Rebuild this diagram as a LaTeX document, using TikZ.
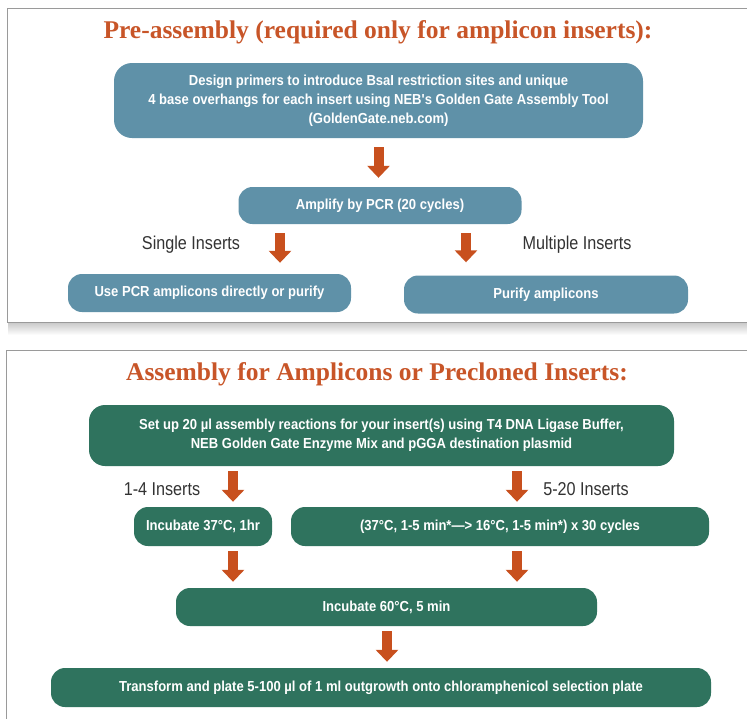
\documentclass[tikz,border=0pt]{standalone}
\usepackage{fontspec}
\usetikzlibrary{arrows.meta,calc}
\newfontfamily\condf[FakeStretch=0.9]{Liberation Sans}
\newfontfamily\labf[FakeStretch=0.87]{Liberation Sans}
\newfontfamily\titlef{Liberation Serif}
\definecolor{boxblue}{HTML}{5F91A8}
\definecolor{boxgreen}{HTML}{2F735E}
\definecolor{arrowor}{HTML}{C8501E}
\definecolor{titleor}{HTML}{C85528}
\definecolor{labgray}{HTML}{333333}
\definecolor{panelgray}{HTML}{9A9A9A}
\begin{document}
\begin{tikzpicture}[x=1pt,y=-1pt,
  bluebox/.style={fill=boxblue, rounded corners=14pt, text=white, font=\condf\bfseries\fontsize{14.5}{19}\selectfont, align=center, inner sep=0pt},
  greenbox/.style={bluebox, fill=boxgreen},
  flowarrow/.style={draw=arrowor, line width=10pt, -{Triangle[width=22pt,length=12pt]}},
  lab/.style={font=\labf\fontsize{18.6}{20}\selectfont, text=labgray, inner sep=0pt},
  ttl/.style={font=\titlef\bfseries\fontsize{25.5}{28}\selectfont, text=titleor, inner sep=0pt},
  panel/.style={draw=panelgray, line width=1pt, fill=white}]
\clip (0,0) rectangle (747,718);
\fill[white] (0,0) rectangle (747,718);
% panel shadows and panels
\shade[top color=black!22, bottom color=white] (8,322) rectangle (765,335);
\draw[panel] (7,8) rectangle (765,322);
\draw[panel] (6,350) rectangle (765,730);
% titles
\node[ttl] (t1) at (378,32) {Pre-assembly (required only for amplicon inserts):};
\node[ttl] (t2) at (377,374) {Assembly for Amplicons or Precloned Inserts:};
% panel 1 boxes
\node[bluebox, minimum width=529pt, minimum height=75pt, rounded corners=18pt] (A) at (378.5,100.5)
  {Design primers to introduce BsaI restriction sites and unique\\4 base overhangs for each insert using NEB's Golden Gate Assembly Tool\\(GoldenGate.neb.com)};
\node[bluebox, minimum width=283pt, minimum height=37pt] (B) at (380,205.5) {Amplify by PCR (20 cycles)};
\node[bluebox, minimum width=283pt, minimum height=38pt] (C) at (209.5,293) {Use PCR amplicons directly or purify};
\node[bluebox, minimum width=284pt, minimum height=38pt] (D) at (546,294.5) {Purify amplicons};
\coordinate (xl1) at (280,0);
\coordinate (xr1) at (466,0);
\draw[flowarrow, shorten <=9pt, shorten >=9pt] (A.south) -- (A.south |- B.north);
\draw[flowarrow, shorten <=9pt, shorten >=11pt] (B.south -| xl1) -- (C.north -| xl1);
\draw[flowarrow, shorten <=9pt, shorten >=13pt] (B.south -| xr1) -- (D.north -| xr1);
\node[lab] (l1) at (191,245) {Single Inserts};
\node[lab] (l2) at (577,245) {Multiple Inserts};
% panel 2 boxes
\node[greenbox, minimum width=585pt, minimum height=61pt, rounded corners=16pt] (E) at (381.5,435.5)
  {Set up 20 µl assembly reactions for your insert(s) using T4 DNA Ligase Buffer,\\NEB Golden Gate Enzyme Mix and pGGA destination plasmid};
\node[greenbox, minimum width=138pt, minimum height=39pt] (F) at (203,526.5) {Incubate 37°C, 1hr};
\node[greenbox, minimum width=418pt, minimum height=39pt] (G) at (500,526.5) {(37°C, 1-5 min*—> 16°C, 1-5 min*) x 30 cycles};
\node[greenbox, minimum width=421pt, minimum height=38pt] (H) at (386.5,607) {Incubate 60°C, 5 min};
\node[greenbox, minimum width=660pt, minimum height=39pt] (I) at (381,687.5) {Transform and plate 5-100 µl of 1 ml outgrowth onto chloramphenicol selection plate};
\coordinate (xl2) at (233,0);
\coordinate (xr2) at (517,0);
\coordinate (xm2) at (387,0);
\draw[flowarrow, shorten <=5pt, shorten >=5pt] (E.south -| xl2) -- (F.north -| xl2);
\draw[flowarrow, shorten <=5pt, shorten >=5pt] (E.south -| xr2) -- (G.north -| xr2);
\draw[flowarrow, shorten <=5pt, shorten >=6pt] (F.south -| xl2) -- (H.north -| xl2);
\draw[flowarrow, shorten <=5pt, shorten >=6pt] (G.south -| xr2) -- (H.north -| xr2);
\draw[flowarrow, shorten <=5pt, shorten >=6pt] (H.south -| xm2) -- (I.north -| xm2);
\node[lab] (l3) at (162,489) {1-4 Inserts};
\node[lab] (l4) at (586,489) {5-20 Inserts};
\end{tikzpicture}
\end{document}
